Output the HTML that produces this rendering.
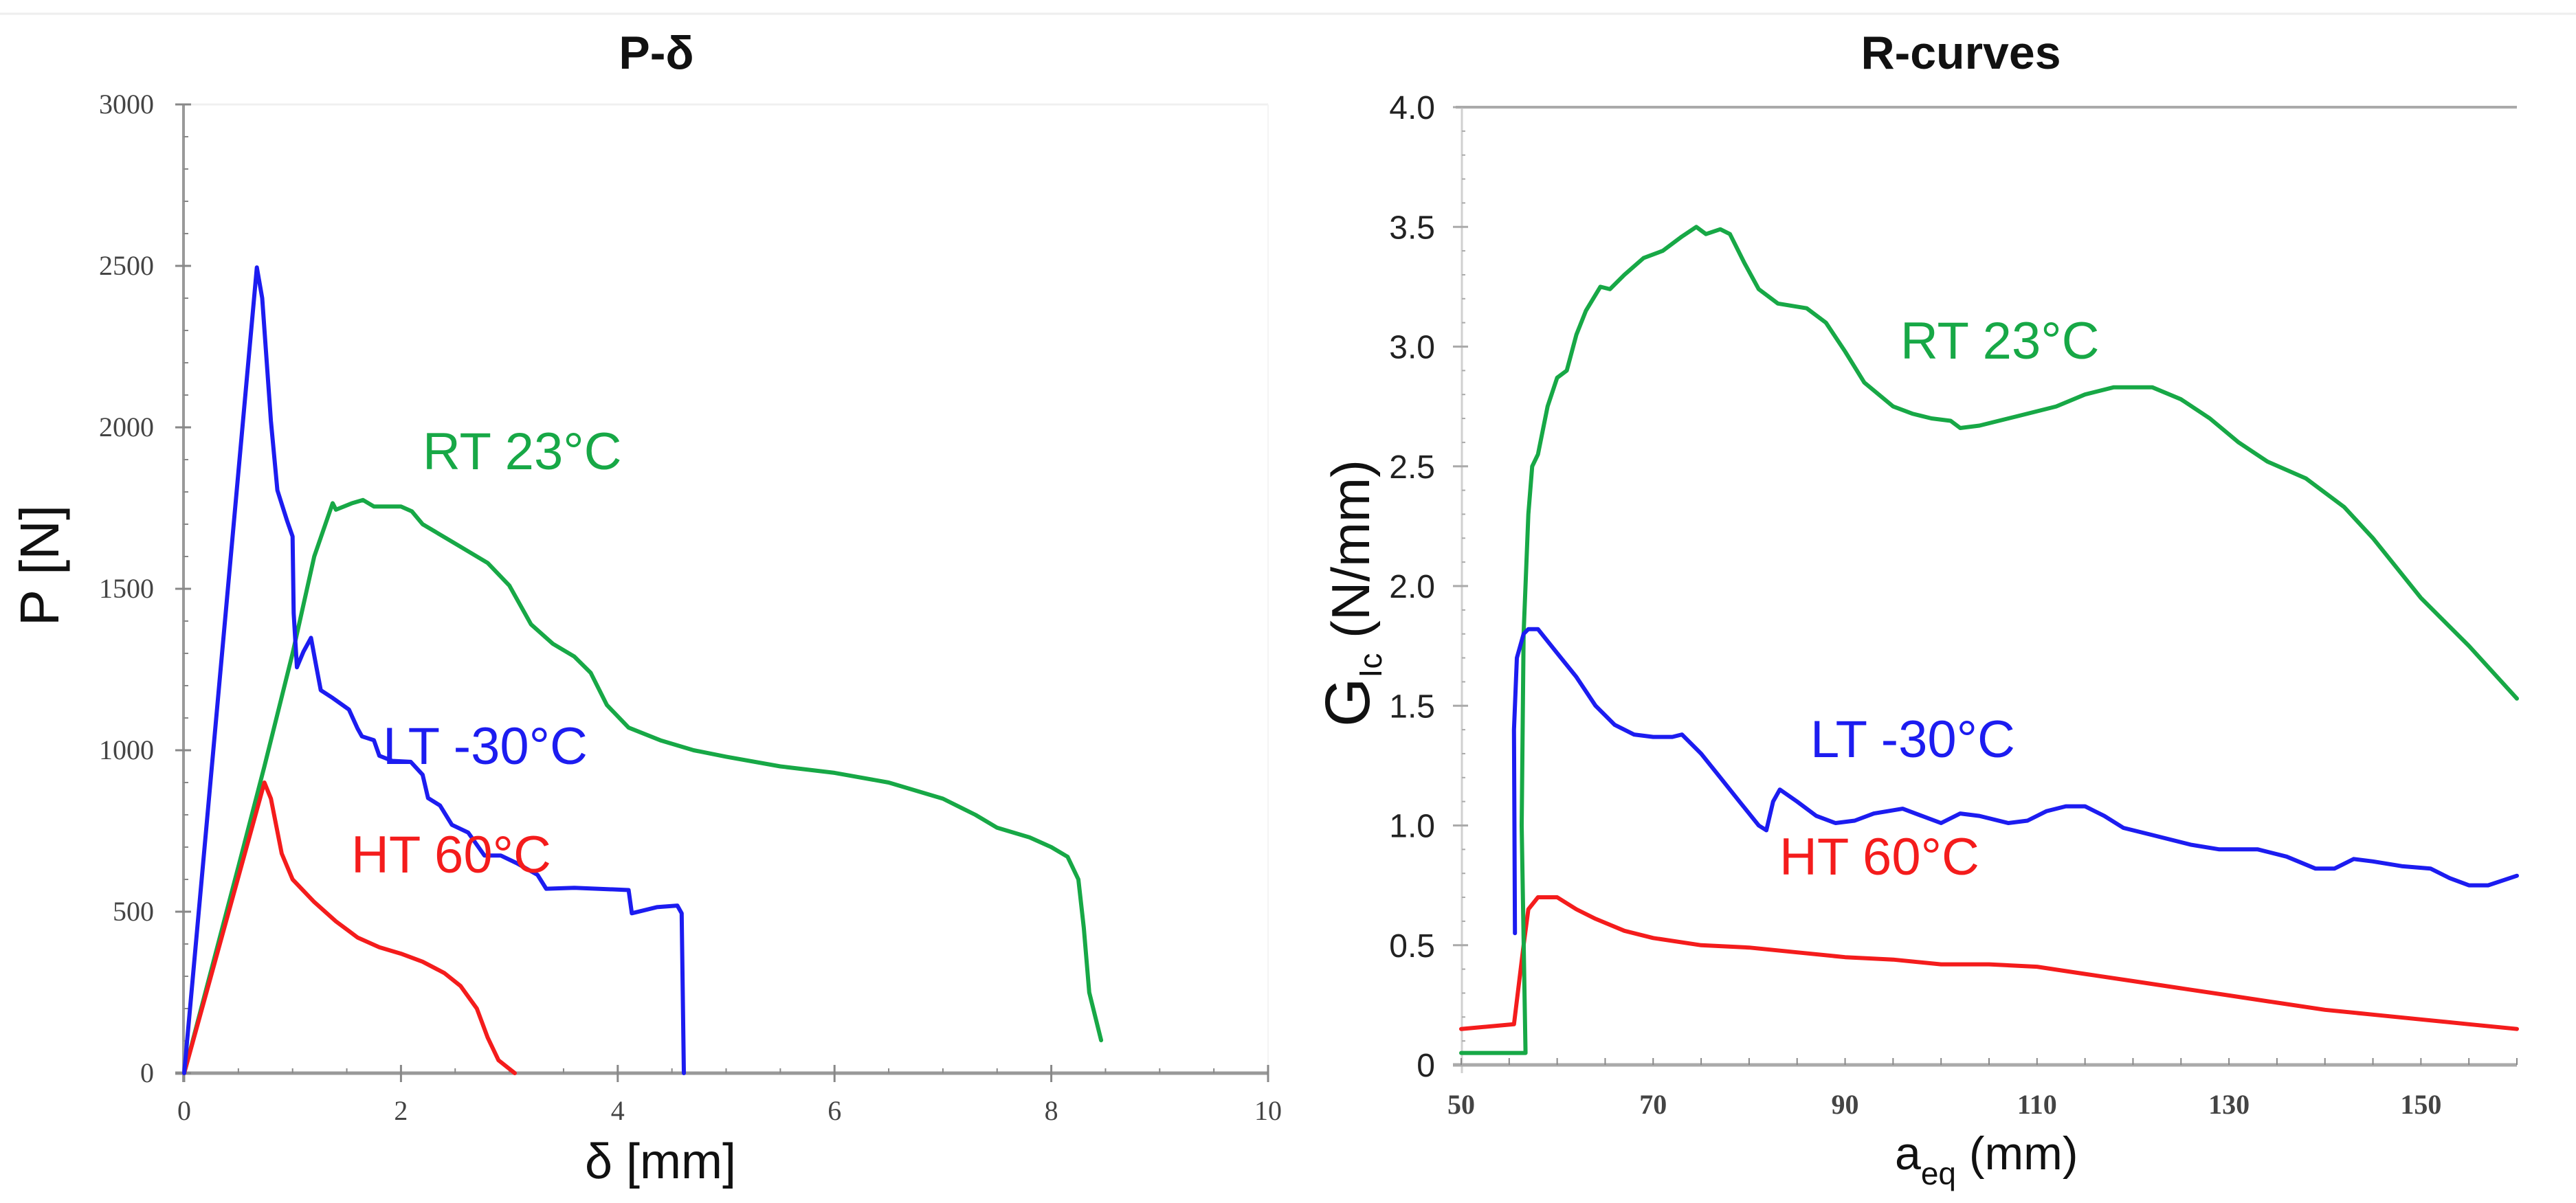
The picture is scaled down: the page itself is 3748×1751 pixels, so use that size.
<!DOCTYPE html>
<html>
<head>
<meta charset="utf-8">
<style>
html,body{margin:0;padding:0;background:#fff;}
svg{display:block;}
</style>
</head>
<body>
<svg id="chart" width="3748" height="1751" viewBox="0 0 3748 1751" xmlns="http://www.w3.org/2000/svg">
<rect x="0" y="0" width="3748" height="1751" fill="#fff"/>
<line x1="0" y1="20" x2="3748" y2="20" stroke="#eeeeee" stroke-width="3"/>
<g id="left"></g>
<g id="right"></g>
</svg>
<script>
// ---------- Left chart data (P-δ) ----------
const ltDelta = [0,0.67,0.72,0.8,0.86,0.95,1.0,1.01,1.04,1.1,1.17,1.22,1.26,1.37,1.52,1.6,1.64,1.75,1.8,1.92,2.09,2.2,2.25,2.36,2.47,2.62,2.77,2.92,3.07,3.26,3.34,3.6,4.1,4.13,4.36,4.55,4.59,4.61];
const ltLoad  = [0,2495,2400,2019,1805,1710,1662,1424,1257,1305,1348,1257,1186,1162,1126,1067,1043,1031,983,967,964,924,852,829,769,745,674,674,650,614,571,574,567,495,514,519,495,0];
const rtDelta = [0,0.5,0.74,1.0,1.2,1.37,1.4,1.55,1.65,1.75,2.0,2.1,2.2,2.5,2.8,3.0,3.2,3.4,3.6,3.75,3.9,4.1,4.4,4.7,5.0,5.5,6.0,6.5,7.0,7.3,7.5,7.8,8.0,8.15,8.25,8.3,8.35,8.46];
const rtLoad  = [0,640,950,1300,1600,1765,1745,1765,1775,1755,1755,1740,1700,1640,1580,1510,1390,1330,1290,1240,1140,1070,1030,1000,980,950,930,900,850,800,760,730,700,670,600,450,250,102];
const htDelta = [0,0.74,0.8,0.9,1.0,1.2,1.4,1.6,1.8,2.0,2.2,2.4,2.55,2.7,2.8,2.9,3.05];
const htLoad  = [0,900,850,680,600,530,470,420,390,370,345,310,270,200,110,40,0];
const leftXTicks = [0,2,4,6,8,10];
const leftYTicks = [0,500,1000,1500,2000,2500,3000];

// ---------- Right chart data (R-curves) ----------
const rtA = [50,56.7,56.3,56.5,57,57.4,58,59,60,61,62,63,64.5,65.5,67,69,71,73,74.5,75.5,77,78,79.5,81,83,86,88,90,92,95,97,99,101,102,104,108,112,115,118,122,125,128,131,134,138,142,145,150,155,160];
const rtG = [0.05,0.05,1.0,1.8,2.3,2.5,2.55,2.75,2.87,2.9,3.05,3.15,3.25,3.24,3.3,3.37,3.4,3.46,3.5,3.47,3.49,3.47,3.35,3.24,3.18,3.16,3.1,2.98,2.85,2.75,2.72,2.7,2.69,2.66,2.67,2.71,2.75,2.8,2.83,2.83,2.78,2.7,2.6,2.52,2.45,2.33,2.2,1.95,1.75,1.53];
const ltA = [55.6,55.5,55.8,56.5,57,58,60,62,64,66,68,70,72,73,75,77,79,81,81.8,82.5,83.2,85,87,89,91,93,96,98,100,102,104,107,109,111,113,115,117,119,122,126,129,133,136,139,141,143,145,148,151,153,155,157,160];
const ltG = [0.55,1.4,1.7,1.8,1.82,1.82,1.72,1.62,1.5,1.42,1.38,1.37,1.37,1.38,1.3,1.2,1.1,1.0,0.98,1.1,1.15,1.1,1.04,1.01,1.02,1.05,1.07,1.04,1.01,1.05,1.04,1.01,1.02,1.06,1.08,1.08,1.04,0.99,0.96,0.92,0.9,0.9,0.87,0.82,0.82,0.86,0.85,0.83,0.82,0.78,0.75,0.75,0.79];
const htA = [50,55.5,56.5,57,58,60,62,64,67,70,75,80,85,90,95,100,105,110,115,120,125,130,135,140,145,150,155,160];
const htG = [0.15,0.17,0.5,0.65,0.7,0.7,0.65,0.61,0.56,0.53,0.5,0.49,0.47,0.45,0.44,0.42,0.42,0.41,0.38,0.35,0.32,0.29,0.26,0.23,0.21,0.19,0.17,0.15];
const rightXTicks = [50,70,90,110,130,150];
const rightYTicks = [0,0.5,1.0,1.5,2.0,2.5,3.0,3.5,4.0];

const NS = 'http://www.w3.org/2000/svg';
function mk(parent, tag, attrs, text){
  const e = document.createElementNS(NS, tag);
  for (const k in attrs) e.setAttribute(k, attrs[k]);
  if (text !== undefined) e.textContent = text;
  parent.appendChild(e);
  return e;
}
const GREEN='#17a846', BLUE='#1c1cf0', RED='#f41c1c';

// ---------- Left axes ----------
const L = document.getElementById('left');
const lx = v => 268 + (v - 0) / 10 * (1845 - 268);
const ly = v => 1562 - v / 3000 * (1562 - 152);

let e;
e = mk(L,'line',{x1:268,y1:152,x2:1845,y2:152,stroke:'#f0f0f0','stroke-width':3});


e = mk(L,'line',{x1:1845,y1:152,x2:1845,y2:1562,stroke:'#f4f4f4','stroke-width':2});


e = mk(L,'line',{x1:267,y1:152,x2:267,y2:1575,stroke:'#999','stroke-width':4});


e = mk(L,'line',{x1:255,y1:1562,x2:1846,y2:1562,stroke:'#999','stroke-width':5});


for (let v=0; v<=3000; v+=100){
  const major = v%500===0;
  e = mk(L,'line',{x1:major?255:267,y1:ly(v),x2:major?278:274,y2:ly(v),stroke:'#888','stroke-width':major?3:2});
  
  
}
for (let v=0; v<=10; v+=0.5){
  const major = Math.abs(v%2)<1e-9;
  e = mk(L,'line',{x1:lx(v),y1:major?1575:1562,x2:lx(v),y2:major?1550:1555,stroke:'#888','stroke-width':major?3:2});
  
  
}
leftYTicks.forEach(v=>{
  e = mk(L,'text',{x:224,y:ly(v)+13,'text-anchor':'end','font-family':'Liberation Serif, serif','font-size':40,fill:'#444'},String(v));
  
  
});
leftXTicks.forEach(v=>{
  e = mk(L,'text',{x:lx(v),y:1630,'text-anchor':'middle','font-family':'Liberation Serif, serif','font-size':40,fill:'#444'},String(v));
  
  
});
e = mk(L,'text',{x:955,y:100,'text-anchor':'middle','font-family':'Liberation Sans, sans-serif','font-size':68,'font-weight':'bold',fill:'#111'},'P-δ');


e = mk(L,'text',{x:961,y:1715,'text-anchor':'middle','font-family':'Liberation Sans, sans-serif','font-size':72,fill:'#111'},'δ [mm]');


e = mk(L,'text',{x:0,y:0,'text-anchor':'middle','font-family':'Liberation Sans, sans-serif','font-size':80,fill:'#111',transform:'translate(85,823) rotate(-90)'},'P [N]');



function series(parent, xs, ys, fx, fy, color, name){
  const d = xs.map((v,i)=>(i?'L':'M')+fx(v).toFixed(1)+','+fy(ys[i]).toFixed(1)).join(' ');
  const p = mk(parent,'path',{d:d,fill:'none',stroke:color,'stroke-width':6,'stroke-linejoin':'round','stroke-linecap':'round'});
  
  
}
series(L, rtDelta, rtLoad, lx, ly, GREEN, 'series-rt-23c');
series(L, htDelta, htLoad, lx, ly, RED, 'series-ht-60c');
series(L, ltDelta, ltLoad, lx, ly, BLUE, 'series-lt-minus30c');

e = mk(L,'text',{x:615,y:683,'font-family':'Liberation Sans, sans-serif','font-size':76,fill:GREEN},'RT 23°C');


e = mk(L,'text',{x:557,y:1112,'font-family':'Liberation Sans, sans-serif','font-size':76,fill:BLUE},'LT -30°C');


e = mk(L,'text',{x:511,y:1270,'font-family':'Liberation Sans, sans-serif','font-size':76,fill:RED},'HT 60°C');



// ---------- Right axes ----------
const R = document.getElementById('right');
const rx = v => 2126 + (v - 50) / 110 * (3662 - 2126);
const ry = v => 1550 - v / 4 * (1550 - 156);

e = mk(R,'line',{x1:2118,y1:156,x2:3662,y2:156,stroke:'#aaa','stroke-width':4});


e = mk(R,'line',{x1:2127,y1:156,x2:2127,y2:1562,stroke:'#d0d0d0','stroke-width':3});


e = mk(R,'line',{x1:2114,y1:1550,x2:3662,y2:1550,stroke:'#aaa','stroke-width':5});


for (let v=0; v<=4.0001; v+=0.1){
  const major = Math.abs((v*10)%5)<1e-6 || Math.abs((v*10)%5-5)<1e-6;
  e = mk(R,'line',{x1:major?2114:2127,y1:ry(v),x2:major?2136:2132,y2:ry(v),stroke:'#aaa','stroke-width':major?3:2});
  
  
}
for (let v=50; v<=160; v+=5){
  e = mk(R,'line',{x1:rx(v),y1:1550,x2:rx(v),y2:1540,stroke:'#888','stroke-width':2});
  
  
}
rightYTicks.forEach(v=>{
  e = mk(R,'text',{x:2088,y:ry(v)+17,'text-anchor':'end','font-family':'Liberation Sans Narrow, Liberation Sans, sans-serif','font-size':48,fill:'#222'},v===0?'0':v.toFixed(1));
  
  
});
rightXTicks.forEach(v=>{
  e = mk(R,'text',{x:rx(v),y:1621,'text-anchor':'middle','font-family':'Liberation Serif, serif','font-size':40,'font-weight':'bold',fill:'#444'},String(v));
  
  
});
e = mk(R,'text',{x:2853,y:100,'text-anchor':'middle','font-family':'Liberation Sans, sans-serif','font-size':68,'font-weight':'bold',fill:'#111'},'R-curves');


const xt = mk(R,'text',{x:2757,y:1702,'font-family':'Liberation Sans, sans-serif','font-size':68,fill:'#111'});


mk(xt,'tspan',{},'a');
mk(xt,'tspan',{'font-size':46,dy:22},'eq');
mk(xt,'tspan',{dy:-22},' (mm)');
const yt = mk(R,'text',{x:0,y:0,'font-family':'Liberation Sans, sans-serif','font-size':78,fill:'#111',transform:'translate(1992,1058) rotate(-90)'});


mk(yt,'tspan',{'font-size':92},'G');
mk(yt,'tspan',{'font-size':46,dy:18},'Ic');
mk(yt,'tspan',{dy:-18},' (N/mm)');

series(R, htA, htG, rx, ry, RED, 'series-ht-60c');
series(R, rtA, rtG, rx, ry, GREEN, 'series-rt-23c');
series(R, ltA, ltG, rx, ry, BLUE, 'series-lt-minus30c');

e = mk(R,'text',{x:2765,y:522,'font-family':'Liberation Sans, sans-serif','font-size':76,fill:GREEN},'RT 23°C');


e = mk(R,'text',{x:2634,y:1102,'font-family':'Liberation Sans, sans-serif','font-size':76,fill:BLUE},'LT -30°C');


e = mk(R,'text',{x:2589,y:1273,'font-family':'Liberation Sans, sans-serif','font-size':76,fill:RED},'HT 60°C');


</script>
</body>
</html>
